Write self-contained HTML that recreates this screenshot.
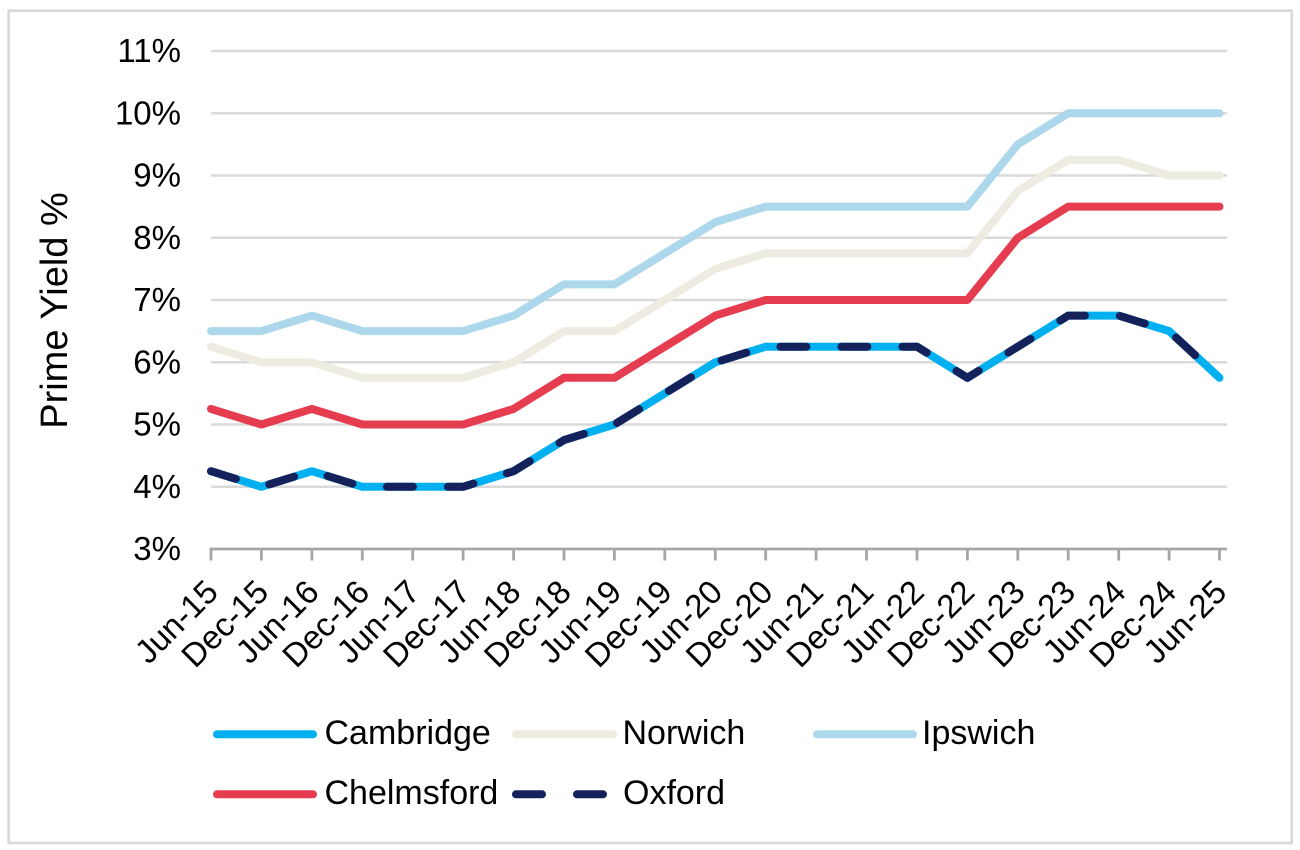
<!DOCTYPE html>
<html>
<head>
<meta charset="utf-8">
<style>
  html,body{margin:0;padding:0;background:#fff;}
  svg{display:block;}
  text{font-family:"Liberation Sans",Arial,sans-serif;fill:#000;}
</style>
</head>
<body>
<svg width="1300" height="850" viewBox="0 0 1300 850" xmlns="http://www.w3.org/2000/svg">
  <rect x="0" y="0" width="1300" height="850" fill="#fff"/>
  <rect x="8.7" y="10.7" width="1283" height="832.3" fill="none" stroke="#d9d9d9" stroke-width="2.7"/>

  <!-- gridlines -->
  <g stroke="#d9d9d9" stroke-width="2.6">
    <line x1="211" y1="51" x2="1227" y2="51"/>
    <line x1="211" y1="113.25" x2="1227" y2="113.25"/>
    <line x1="211" y1="175.5" x2="1227" y2="175.5"/>
    <line x1="211" y1="237.75" x2="1227" y2="237.75"/>
    <line x1="211" y1="300" x2="1227" y2="300"/>
    <line x1="211" y1="362.25" x2="1227" y2="362.25"/>
    <line x1="211" y1="424.5" x2="1227" y2="424.5"/>
    <line x1="211" y1="486.75" x2="1227" y2="486.75"/>
  </g>

  <!-- x axis -->
  <g stroke="#a6a6a6" stroke-width="2.8">
    <line x1="209.6" y1="549" x2="1227" y2="549"/>
    <line x1="211" y1="549" x2="211" y2="560.5"/>
    <line x1="261.4" y1="549" x2="261.4" y2="560.5"/>
    <line x1="311.9" y1="549" x2="311.9" y2="560.5"/>
    <line x1="362.3" y1="549" x2="362.3" y2="560.5"/>
    <line x1="412.7" y1="549" x2="412.7" y2="560.5"/>
    <line x1="463.1" y1="549" x2="463.1" y2="560.5"/>
    <line x1="513.6" y1="549" x2="513.6" y2="560.5"/>
    <line x1="564" y1="549" x2="564" y2="560.5"/>
    <line x1="614.4" y1="549" x2="614.4" y2="560.5"/>
    <line x1="664.8" y1="549" x2="664.8" y2="560.5"/>
    <line x1="715.3" y1="549" x2="715.3" y2="560.5"/>
    <line x1="765.7" y1="549" x2="765.7" y2="560.5"/>
    <line x1="816.1" y1="549" x2="816.1" y2="560.5"/>
    <line x1="866.5" y1="549" x2="866.5" y2="560.5"/>
    <line x1="917" y1="549" x2="917" y2="560.5"/>
    <line x1="967.4" y1="549" x2="967.4" y2="560.5"/>
    <line x1="1017.8" y1="549" x2="1017.8" y2="560.5"/>
    <line x1="1068.2" y1="549" x2="1068.2" y2="560.5"/>
    <line x1="1118.7" y1="549" x2="1118.7" y2="560.5"/>
    <line x1="1169.1" y1="549" x2="1169.1" y2="560.5"/>
    <line x1="1219.5" y1="549" x2="1219.5" y2="560.5"/>
  </g>

  <!-- y labels -->
  <g font-size="33" text-anchor="end">
    <text x="181" y="62">11%</text>
    <text x="181" y="124.25">10%</text>
    <text x="181" y="186.5">9%</text>
    <text x="181" y="248.75">8%</text>
    <text x="181" y="311">7%</text>
    <text x="181" y="373.25">6%</text>
    <text x="181" y="435.5">5%</text>
    <text x="181" y="497.75">4%</text>
    <text x="181" y="560">3%</text>
  </g>

  <!-- y axis title -->
  <text x="67" y="310.5" font-size="38" text-anchor="middle" transform="rotate(-90 67 310.5)">Prime Yield %</text>

  <!-- x labels -->
  <g font-size="33" text-anchor="end">
    <text x="220" y="594" transform="rotate(-45 220 594)">Jun-15</text>
    <text x="270.4" y="594" transform="rotate(-45 270.4 594)">Dec-15</text>
    <text x="320.9" y="594" transform="rotate(-45 320.9 594)">Jun-16</text>
    <text x="371.3" y="594" transform="rotate(-45 371.3 594)">Dec-16</text>
    <text x="421.7" y="594" transform="rotate(-45 421.7 594)">Jun-17</text>
    <text x="472.1" y="594" transform="rotate(-45 472.1 594)">Dec-17</text>
    <text x="522.6" y="594" transform="rotate(-45 522.6 594)">Jun-18</text>
    <text x="573" y="594" transform="rotate(-45 573 594)">Dec-18</text>
    <text x="623.4" y="594" transform="rotate(-45 623.4 594)">Jun-19</text>
    <text x="673.8" y="594" transform="rotate(-45 673.8 594)">Dec-19</text>
    <text x="724.3" y="594" transform="rotate(-45 724.3 594)">Jun-20</text>
    <text x="774.7" y="594" transform="rotate(-45 774.7 594)">Dec-20</text>
    <text x="825.1" y="594" transform="rotate(-45 825.1 594)">Jun-21</text>
    <text x="875.5" y="594" transform="rotate(-45 875.5 594)">Dec-21</text>
    <text x="926" y="594" transform="rotate(-45 926 594)">Jun-22</text>
    <text x="976.4" y="594" transform="rotate(-45 976.4 594)">Dec-22</text>
    <text x="1026.8" y="594" transform="rotate(-45 1026.8 594)">Jun-23</text>
    <text x="1077.2" y="594" transform="rotate(-45 1077.2 594)">Dec-23</text>
    <text x="1127.7" y="594" transform="rotate(-45 1127.7 594)">Jun-24</text>
    <text x="1178.1" y="594" transform="rotate(-45 1178.1 594)">Dec-24</text>
    <text x="1228.5" y="594" transform="rotate(-45 1228.5 594)">Jun-25</text>
  </g>

  <!-- series -->
  <g fill="none" stroke-width="8" stroke-linejoin="round" stroke-linecap="round">
    <!-- Cambridge -->
    <polyline stroke="#00b0f0" points="211,471.2 261.4,486.8 311.9,471.2 362.3,486.8 412.7,486.8 463.1,486.8 513.6,471.2 564,440.1 614.4,424.5 664.8,393.4 715.3,362.3 765.7,346.7 816.1,346.7 866.5,346.7 917,346.7 967.4,377.8 1017.8,346.7 1068.2,315.6 1118.7,315.6 1169.1,331.1 1219.5,377.8"/>
    <!-- Norwich -->
    <polyline stroke="#eeebe1" points="211,346.7 261.4,362.3 311.9,362.3 362.3,377.8 412.7,377.8 463.1,377.8 513.6,362.3 564,331.1 614.4,331.1 664.8,300 715.3,268.9 765.7,253.3 816.1,253.3 866.5,253.3 917,253.3 967.4,253.3 1017.8,191.1 1068.2,159.9 1118.7,159.9 1169.1,175.5 1219.5,175.5"/>
    <!-- Ipswich -->
    <polyline stroke="#add8ec" points="211,331.1 261.4,331.1 311.9,315.6 362.3,331.1 412.7,331.1 463.1,331.1 513.6,315.6 564,284.4 614.4,284.4 664.8,253.3 715.3,222.2 765.7,206.6 816.1,206.6 866.5,206.6 917,206.6 967.4,206.6 1017.8,144.4 1068.2,113.3 1118.7,113.3 1169.1,113.3 1219.5,113.3"/>
    <!-- Chelmsford -->
    <polyline stroke="#e63c50" points="211,408.9 261.4,424.5 311.9,408.9 362.3,424.5 412.7,424.5 463.1,424.5 513.6,408.9 564,377.8 614.4,377.8 664.8,346.7 715.3,315.6 765.7,300 816.1,300 866.5,300 917,300 967.4,300 1017.8,237.8 1068.2,206.6 1118.7,206.6 1169.1,206.6 1219.5,206.6"/>
    <!-- Oxford -->
    <polyline stroke="#15215a" stroke-dasharray="26 35" points="211,471.2 261.4,486.8 311.9,471.2 362.3,486.8 412.7,486.8 463.1,486.8 513.6,471.2 564,440.1 614.4,424.5 664.8,393.4 715.3,362.3 765.7,346.7 816.1,346.7 866.5,346.7 917,346.7 967.4,377.8 1017.8,346.7 1068.2,315.6 1118.7,315.6 1169.1,331.1 1219.5,377.8"/>
  </g>

  <!-- legend -->
  <g fill="none" stroke-width="8" stroke-linecap="round">
    <line x1="217" y1="734.3" x2="313" y2="734.3" stroke="#00b0f0"/>
    <line x1="516" y1="734.3" x2="613" y2="734.3" stroke="#eeebe1"/>
    <line x1="817" y1="734.3" x2="913" y2="734.3" stroke="#add8ec"/>
    <line x1="217" y1="794.3" x2="313" y2="794.3" stroke="#e63c50"/>
    <line x1="516" y1="794.3" x2="603" y2="794.3" stroke="#15215a" stroke-dasharray="26 35"/>
  </g>
  <g font-size="34">
    <text x="324.5" y="744">Cambridge</text>
    <text x="622.5" y="744">Norwich</text>
    <text x="922" y="744">Ipswich</text>
    <text x="324.5" y="804">Chelmsford</text>
    <text x="623" y="804">Oxford</text>
  </g>
</svg>
</body>
</html>
